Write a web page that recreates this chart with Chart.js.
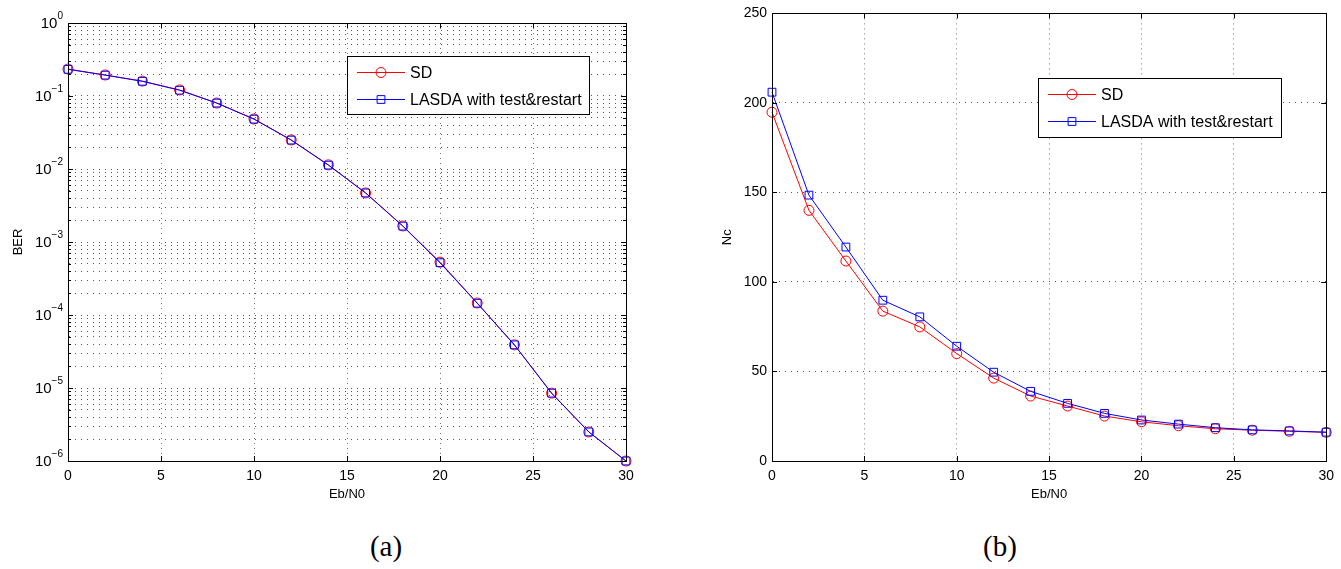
<!DOCTYPE html>
<html>
<head>
<meta charset="utf-8">
<script src="https://cdn.jsdelivr.net/npm/chart.js@4.4.1/dist/chart.umd.min.js"></script>
<style>
  body { margin: 0; background: #fff; width: 1341px; height: 569px; position: relative; overflow: hidden; }
  .wrap { position: absolute; top: 0; height: 505px; }
  #left-wrap { left: 0; width: 660px; }
  #right-wrap { left: 680px; width: 661px; }
  .caption { position: absolute; top: 530px; font-family: "Liberation Serif", serif; font-size: 29px; transform: translateX(-50%); }
</style>
</head>
<body>
<div class="wrap" id="left-wrap"><canvas id="ber-chart"></canvas></div>
<div class="wrap" id="right-wrap"><canvas id="nc-chart"></canvas></div>
<div class="caption" style="left:386px">(a)</div>
<div class="caption" style="left:1000px">(b)</div>
<script>
const EBN0 = [0, 2, 4, 6, 8, 10, 12, 14, 16, 18, 20, 22, 24, 26, 28, 30];

const BER_SD = [0.234, 0.194, 0.16, 0.121, 0.08, 0.0484, 0.025, 0.0114, 0.0047, 0.00166, 0.00053, 0.000146, 0.000039, 0.0000085, 0.0000025, 0.000001];
const BER_LASDA = [0.232, 0.193, 0.159, 0.12, 0.08, 0.0482, 0.0249, 0.0113, 0.0047, 0.00165, 0.00052, 0.000145, 0.000039, 0.0000085, 0.0000025, 0.000001];

const NC_SD = [194.8, 140, 111.7, 83.7, 74.9, 60, 46.3, 36.3, 30.7, 25.1, 21.9, 19.7, 18, 17.2, 16.6, 16];
const NC_LASDA = [206, 148.5, 119.5, 89.8, 80.5, 64.1, 49.6, 38.9, 32.2, 26.6, 22.9, 20.6, 18.6, 17.4, 16.8, 16.1];

const BER_DECADES = [-6, -5, -4, -3, -2, -1, 0];
const SERIES_NAMES = ["SD", "LASDA with test&restart"];

const FONT = "Liberation Sans, Arial, sans-serif";
const RED = "#ff0000";
const BLUE = "#0000ff";

function toPoints(ys) {
  return EBN0.map((x, i) => ({ x, y: ys[i] }));
}

function makeDataset(label, ys, color, style, radius, order) {
  return {
    label,
    data: toPoints(ys),
    order, // lower order is painted on top
    borderColor: color,
    borderWidth: 1,
    pointStyle: style,
    pointRadius: radius,
    pointBorderWidth: 1,
    pointBorderColor: color,
    pointBackgroundColor: "rgba(0,0,0,0)",
    pointHoverRadius: radius,
    tension: 0,
    clip: false,
  };
}

// box round the axes plus matlab style inner tick marks
const frame = {
  id: "frame",
  afterDatasetsDraw(chart) {
    const { ctx, chartArea: a } = chart;
    const xs = chart.scales.x;
    const ys = chart.scales.y;
    ctx.save();
    ctx.strokeStyle = "#000";
    ctx.lineWidth = 1;
    ctx.beginPath();
    xs.ticks.forEach((t) => {
      const px = Math.round(xs.getPixelForValue(t.value)) + 0.5;
      ctx.moveTo(px, a.bottom);
      ctx.lineTo(px, a.bottom - 5);
      ctx.moveTo(px, a.top);
      ctx.lineTo(px, a.top + 5);
    });
    ys.ticks.forEach((t) => {
      const py = Math.round(ys.getPixelForValue(t.value)) + 0.5;
      const len = ys.type === "logarithmic" && !t.major ? 3 : 5;
      ctx.moveTo(a.left, py);
      ctx.lineTo(a.left + len, py);
      ctx.moveTo(a.right, py);
      ctx.lineTo(a.right - len, py);
    });
    ctx.stroke();
    ctx.strokeRect(Math.round(a.left) + 0.5, Math.round(a.top) + 0.5, Math.round(a.right - a.left), Math.round(a.bottom - a.top));
    ctx.restore();
  },
};

const boxLegend = {
  id: "boxLegend",
  afterDraw(chart, args, opts) {
    const { ctx } = chart;
    ctx.save();
    ctx.fillStyle = "#fff";
    ctx.fillRect(opts.x, opts.y, opts.w, opts.h);
    ctx.strokeStyle = "#000";
    ctx.lineWidth = 1;
    ctx.strokeRect(opts.x + 0.5, opts.y + 0.5, opts.w, opts.h);
    chart.data.datasets.forEach((ds, i) => {
      const cy = Math.round(opts.y + opts.row0 + i * opts.rowGap) + 0.5;
      ctx.strokeStyle = ds.borderColor;
      ctx.lineWidth = 1;
      ctx.beginPath();
      ctx.moveTo(opts.x + 10, cy);
      ctx.lineTo(opts.x + 58, cy);
      ctx.stroke();
      ctx.fillStyle = "rgba(0,0,0,0)";
      Chart.helpers.drawPoint(ctx, { pointStyle: ds.pointStyle, radius: ds.pointRadius, borderWidth: 1 }, opts.x + 34, cy);
      ctx.fillStyle = "#000";
      ctx.font = "16px " + FONT;
      ctx.textBaseline = "middle";
      ctx.textAlign = "left";
      ctx.fillText(ds.label, opts.x + 63, cy + 1);
    });
    ctx.restore();
  },
};

// 10^n labels for the log axis
const logLabels = {
  id: "logLabels",
  afterDraw(chart) {
    const { ctx } = chart;
    const ys = chart.scales.y;
    const right = chart.chartArea.left - 5;
    ctx.save();
    ctx.fillStyle = "#000";
    ctx.textBaseline = "middle";
    ctx.textAlign = "left";
    BER_DECADES.forEach((e) => {
      const py = ys.getPixelForValue(Math.pow(10, e));
      const exp = e === 0 ? "0" : "\u2212" + Math.abs(e);
      ctx.font = "10px " + FONT;
      const ew = ctx.measureText(exp).width;
      ctx.font = "15px " + FONT;
      const bw = ctx.measureText("10").width;
      ctx.fillText("10", right - ew - bw, py + 1);
      ctx.font = "10px " + FONT;
      ctx.fillText(exp, right - ew, py - 7);
    });
    ctx.restore();
  },
};

function xScale() {
  return {
    type: "linear",
    min: 0,
    max: 30,
    ticks: { stepSize: 5, color: "#000", font: { family: FONT, size: 14 }, padding: 7, maxRotation: 0 },
    grid: { color: "#777", drawTicks: false },
    border: { display: true, color: "#000", dash: [1, 4] },
    title: { display: true, text: "Eb/N0", color: "#000", font: { family: FONT, size: 13 }, padding: { top: 0, bottom: 3 } },
    afterFit: (scale) => { scale.height = 44; },
  };
}

function initBerChart() {
  new Chart(document.getElementById("ber-chart"), {
    type: "line",
    data: {
      datasets: [
        makeDataset(SERIES_NAMES[0], BER_SD, RED, "circle", 5, 1),
        makeDataset(SERIES_NAMES[1], BER_LASDA, BLUE, "rect", 5.5, 0),
      ],
    },
    options: {
      responsive: true,
      maintainAspectRatio: false,
      animation: false,
      layout: { padding: { left: 0, right: 34, top: 23, bottom: 0 } },
      scales: {
        x: xScale(),
        y: {
          type: "logarithmic",
          min: 1e-6,
          max: 1,
          afterBuildTicks: (scale) => {
            const ticks = [];
            BER_DECADES.forEach((e) => {
              for (let m = 1; m <= 9; m++) {
                const v = m * Math.pow(10, e);
                if (v <= 1.0000001) ticks.push({ value: v, major: m === 1 });
              }
            });
            scale.ticks = ticks;
          },
          ticks: { display: false, autoSkip: false },
          grid: { color: "#555", drawTicks: false },
          border: { display: true, color: "#000", dash: [1, 5] },
          title: { display: true, text: "BER", color: "#000", font: { family: FONT, size: 13 }, padding: { top: 11, bottom: 0 } },
          afterFit: (scale) => { scale.width = 68; },
        },
      },
      plugins: {
        legend: { display: false },
        tooltip: { enabled: false },
        boxLegend: { x: 347, y: 56, w: 242, h: 58, row0: 16, rowGap: 27 },
      },
    },
    plugins: [frame, logLabels, boxLegend],
  });
}

function initNcChart() {
  new Chart(document.getElementById("nc-chart"), {
    type: "line",
    data: {
      datasets: [
        makeDataset(SERIES_NAMES[0], NC_SD, RED, "circle", 5, 1),
        makeDataset(SERIES_NAMES[1], NC_LASDA, BLUE, "rect", 5.5, 0),
      ],
    },
    options: {
      responsive: true,
      maintainAspectRatio: false,
      animation: false,
      layout: { padding: { left: 0, right: 11, top: 13, bottom: 0 } },
      scales: {
        x: xScale(),
        y: {
          type: "linear",
          min: 0,
          max: 250,
          ticks: { stepSize: 50, color: "#000", font: { family: FONT, size: 14 }, padding: 5 },
          grid: { color: "#555", drawTicks: false },
          border: { display: true, color: "#000", dash: [1, 5] },
          title: { display: true, text: "Nc", color: "#000", font: { family: FONT, size: 13 }, padding: { top: 40, bottom: 0 } },
          afterFit: (scale) => { scale.width = 92; },
        },
      },
      plugins: {
        legend: { display: false },
        tooltip: { enabled: false },
        boxLegend: { x: 358, y: 78, w: 243, h: 59, row0: 16, rowGap: 27 },
      },
    },
    plugins: [frame, boxLegend],
  });
}

initBerChart();
initNcChart();
</script>
</body>
</html>
